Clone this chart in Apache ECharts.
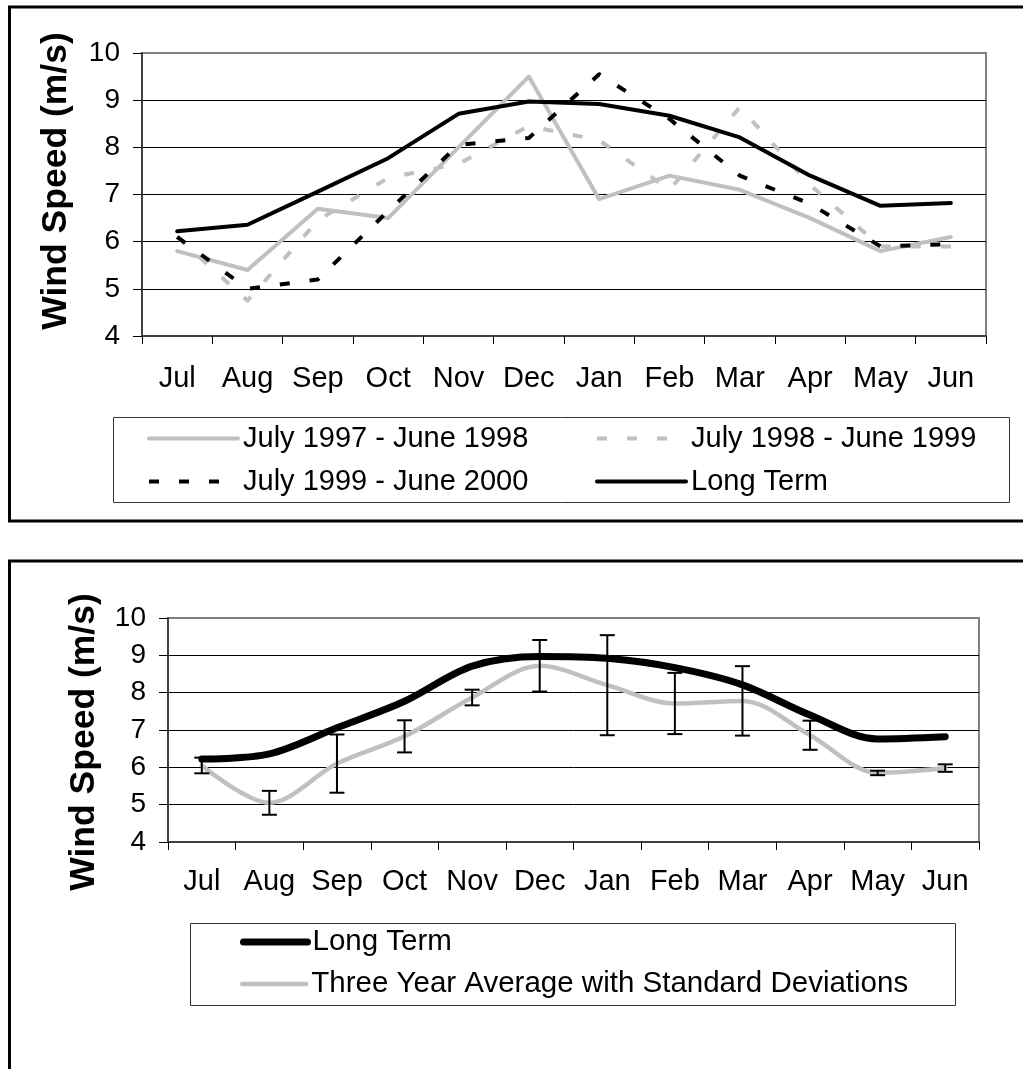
<!DOCTYPE html>
<html>
<head>
<meta charset="utf-8">
<script src="https://cdn.jsdelivr.net/npm/echarts@6/dist/echarts.min.js"></script>
<style>
html,body{margin:0;padding:0;background:#fff;}
#c{width:1023px;height:1069px;}
</style>
</head>
<body>
<div id="c"></div>
<script>
// ---- data ----
var months = ['Jul','Aug','Sep','Oct','Nov','Dec','Jan','Feb','Mar','Apr','May','Jun'];
var yTicks = [4,5,6,7,8,9,10];
var s9798 = [5.8, 5.4, 6.7, 6.5, 8.0, 9.5, 6.9, 7.4, 7.1, 6.5, 5.8, 6.1];
var s9899 = [6.1, 4.75, 6.45, 7.35, 7.65, 8.45, 8.15, 7.1, 8.85, 7.2, 5.9, 5.9];
var s9900 = [6.1, 5.0, 5.2, 6.65, 8.05, 8.2, 9.55, 8.6, 7.4, 6.8, 5.9, 5.95];
var longTerm = [6.22, 6.36, 7.06, 7.77, 8.71, 8.97, 8.92, 8.67, 8.21, 7.4, 6.76, 6.82];
var avg3 = [6.05, 5.05, 6.1, 6.83, 7.87, 8.72, 8.2, 7.71, 7.78, 6.86, 5.85, 5.98];
var sd3 = [0.21, 0.32, 0.78, 0.43, 0.21, 0.69, 1.34, 0.82, 0.93, 0.39, 0.06, 0.1];

var names = ['July 1997 - June 1998','July 1998 - June 1999','July 1999 - June 2000','Long Term'];
var names2 = ['Long Term ','Three Year Average with Standard Deviations'];

var FONT = '"Liberation Sans", Arial, sans-serif';
var GRAY = '#c0c0c0';
var DASH = [10,20];

function xAxisCfg(gi, margin){
  return {
    type:'category', gridIndex:gi, data:months, boundaryGap:true,
    axisLine:{show:true, lineStyle:{color:'#404040', width:2}},
    axisTick:{show:true, length:8, lineStyle:{color:'#000', width:1}},
    axisLabel:{color:'#000', fontSize:29, fontFamily:FONT, margin:margin, interval:0},
    splitLine:{show:false}
  };
}
function yAxisCfg(gi){
  return {
    type:'value', gridIndex:gi, min:yTicks[0], max:yTicks[yTicks.length-1], interval:1,
    axisLine:{show:true, lineStyle:{color:'#404040', width:2}},
    axisTick:{show:true, length:9, lineStyle:{color:'#000', width:1}},
    axisLabel:{color:'#000', fontSize:28, fontFamily:FONT, margin:22},
    splitLine:{show:true, showMaxLine:false, lineStyle:{color:'#000', width:1}}
  };
}
function legendCfg(name, left, top, w, color, width, dash, fs){
  return {
    data:[name], left:left, top:top, padding:0, itemWidth:w, itemHeight:14,
    textStyle:{color:'#000', fontSize:fs || 29, fontFamily:FONT},
    itemStyle:{color:'rgba(0,0,0,0)', borderWidth:0, opacity:0},
    lineStyle:{color:color, width:width, type:dash || 'solid', cap: dash ? 'butt' : 'round', opacity:1},
    selectedMode:false
  };
}

var errData = months.map(function(m,i){ return [i, avg3[i], sd3[i]]; });

var option = {
  backgroundColor:'#fff',
  animation:false,
  grid:[
    {left:142, top:53, width:844, height:283, show:true, borderColor:'#808080', borderWidth:2, backgroundColor:'#fff'},
    {left:168, top:618, width:811, height:224, show:true, borderColor:'#808080', borderWidth:2, backgroundColor:'#fff'}
  ],
  xAxis:[xAxisCfg(0,28), xAxisCfg(1,25)],
  yAxis:[yAxisCfg(0), yAxisCfg(1)],
  legend:[
    legendCfg(names[0], 147, 424, 89, GRAY, 4),
    legendCfg(names[1], 595, 424, 89, GRAY, 4, DASH),
    legendCfg(names[2], 147, 467, 89, '#000', 4, DASH),
    legendCfg(names[3], 595, 467, 89, '#000', 4),
    legendCfg(names2[0], 240, 927, 64, '#000', 7, null, 29.5),
    legendCfg(names2[1], 240, 969, 64, GRAY, 4.5, null, 29.5)
  ],
  graphic:[
    {type:'rect', shape:{x:9.5, y:7, width:1100, height:514}, style:{fill:'none', stroke:'#000', lineWidth:3}, z:-1},
    {type:'rect', shape:{x:9.5, y:561, width:1100, height:600}, style:{fill:'none', stroke:'#000', lineWidth:3}, z:-1},
    {type:'rect', shape:{x:113.5, y:417.5, width:896, height:85}, style:{fill:'none', stroke:'#333', lineWidth:1}},
    {type:'rect', shape:{x:190.5, y:923.5, width:765, height:82}, style:{fill:'none', stroke:'#333', lineWidth:1}},
    {type:'text', x:56, y:181, rotation:Math.PI/2, style:{text:'Wind Speed (m/s)', fontSize:35.5, fontWeight:'bold', fontFamily:FONT, fill:'#000', textAlign:'center', textVerticalAlign:'middle'}},
    {type:'text', x:84, y:742, rotation:Math.PI/2, style:{text:'Wind Speed (m/s)', fontSize:35.5, fontWeight:'bold', fontFamily:FONT, fill:'#000', textAlign:'center', textVerticalAlign:'middle'}}
  ],
  series:[
    {name:names[0], type:'line', xAxisIndex:0, yAxisIndex:0, data:s9798, symbol:'none', color:GRAY,
      lineStyle:{color:GRAY, width:4, cap:'round', join:'round'}},
    {name:names[1], type:'line', xAxisIndex:0, yAxisIndex:0, data:s9899, symbol:'none', color:GRAY,
      lineStyle:{color:GRAY, width:4, type:DASH, cap:'butt', join:'round'}},
    {name:names[2], type:'line', xAxisIndex:0, yAxisIndex:0, data:s9900, symbol:'none', color:'#000',
      lineStyle:{color:'#000', width:4, type:DASH, cap:'butt', join:'round'}},
    {name:names[3], type:'line', xAxisIndex:0, yAxisIndex:0, data:longTerm, symbol:'none', color:'#000',
      lineStyle:{color:'#000', width:4, cap:'round', join:'round'}},
    {name:names2[1], type:'line', xAxisIndex:1, yAxisIndex:1, data:avg3, symbol:'none', smooth:0.33, color:GRAY,
      lineStyle:{color:GRAY, width:4.5, cap:'round', join:'round'}},
    {name:names2[0], type:'line', xAxisIndex:1, yAxisIndex:1, data:longTerm, symbol:'none', smooth:0.33, color:'#000',
      lineStyle:{color:'#000', width:7, cap:'round', join:'round'}},
    {name:'sd', type:'custom', xAxisIndex:1, yAxisIndex:1, data:errData, z:5,
      renderItem:function(params, api){
        var x = api.value(0), m = api.value(1), s = api.value(2);
        var t = api.coord([x, m + s]);
        var b = api.coord([x, m - s]);
        var hw = 7.5;
        var st = {stroke:'#000', lineWidth:2};
        return {type:'group', children:[
          {type:'line', shape:{x1:t[0], y1:t[1], x2:b[0], y2:b[1]}, style:st},
          {type:'line', shape:{x1:t[0]-hw, y1:t[1], x2:t[0]+hw, y2:t[1]}, style:st},
          {type:'line', shape:{x1:b[0]-hw, y1:b[1], x2:b[0]+hw, y2:b[1]}, style:st}
        ]};
      }
    }
  ]
};
var chart = echarts.init(document.getElementById('c'), null, {renderer:'canvas'});
chart.setOption(option);
</script>
</body>
</html>
